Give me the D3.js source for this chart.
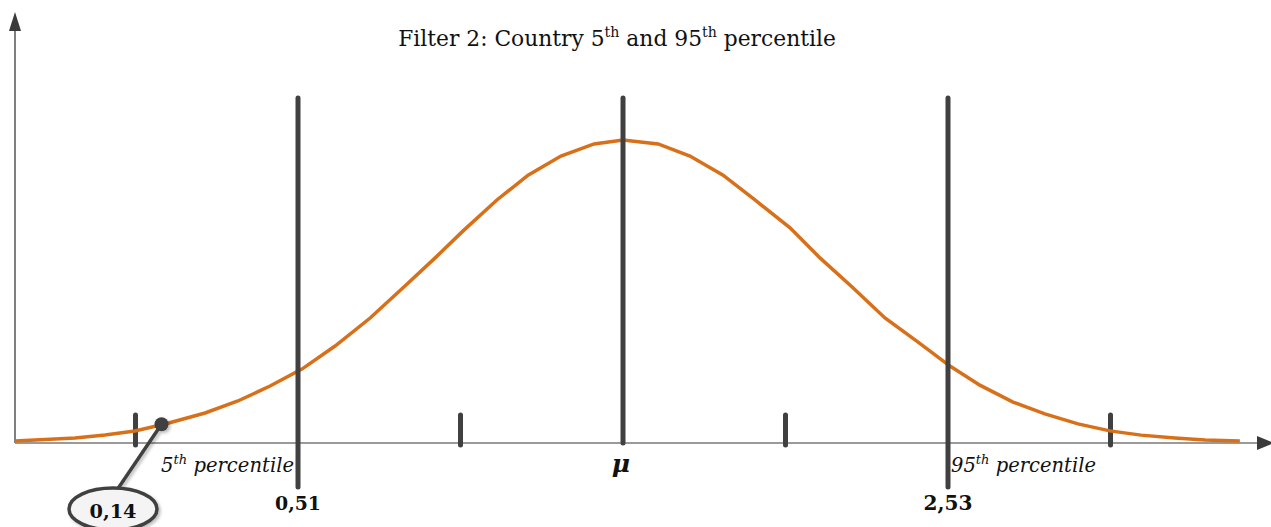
<!DOCTYPE html>
<html>
<head>
<meta charset="utf-8">
<script src="https://cdn.jsdelivr.net/npm/d3@7"></script>
<style>
  html, body { margin: 0; padding: 0; background: #ffffff; }
  svg { display: block; }
  text { font-family: "DejaVu Serif", "Liberation Serif", serif; fill: #111; }
</style>
</head>
<body>
<svg id="chart" width="1271" height="527"></svg>
<script>
// ---- data (standardised units: 0 = mean, ±1 = 5th / 95th percentile lines) ----
const curveZ = [-1.871, -1.686, -1.594, -1.502, -1.409, -1.286, -1.185, -1.086, -0.988, -0.886,
                -0.778, -0.671, -0.578, -0.492, -0.388, -0.292, -0.191, -0.089, 0.0, 0.108,
                0.206, 0.308, 0.406, 0.514, 0.606, 0.705, 0.806, 0.908, 1.006, 1.098,
                1.2, 1.298, 1.4, 1.498, 1.594, 1.698, 1.791, 1.898];
const curveV = [0.0066, 0.0165, 0.0264, 0.0396, 0.0627, 0.099, 0.1386, 0.188, 0.244, 0.320,
                0.4125, 0.518, 0.611, 0.700, 0.802, 0.884, 0.947, 0.987, 1.0, 0.987,
                0.947, 0.884, 0.802, 0.710, 0.611, 0.515, 0.4125, 0.333, 0.254, 0.191,
                0.135, 0.096, 0.063, 0.040, 0.026, 0.0165, 0.0099, 0.0066];
const bigLinesZ = [-1, 0, 1];
const bigLinesBottom = [-0.145, 0, -0.145];
const bigLineLabels = ["0,51", "", "2,53"];
const smallTicksZ = [-1.5, -0.5, 0.5, 1.5];
const calloutZ = -1.42;
const calloutV = 0.062;
const calloutLabel = "0,14";

const svg = d3.select("#chart");
const x = d3.scaleLinear().domain([-1.8708, 2.0]).range([15, 1273]);
const y = d3.scaleLinear().domain([0, 1]).range([443, 140]);

const dark = "#404040";

// scale a text's font size so it spans the given width
function fit(sel, width) {
  const base = +sel.attr("font-size");
  const w = sel.node().getComputedTextLength();
  const k = width / w;
  sel.attr("font-size", base * k);
  sel.selectAll("tspan").each(function () {
    const s = d3.select(this);
    if (s.attr("font-size")) s.attr("font-size", +s.attr("font-size") * k);
    if (s.attr("dy")) s.attr("dy", +s.attr("dy") * k);
  });
}

const defs = svg.append("defs");
const f = defs.append("filter").attr("id", "shadow").attr("x", "-30%").attr("y", "-30%").attr("width", "160%").attr("height", "160%");
f.append("feDropShadow").attr("dx", 2).attr("dy", 2).attr("stdDeviation", 1.5).attr("flood-color", "#000").attr("flood-opacity", 0.25);

// y axis
svg.append("line").attr("x1", 15).attr("x2", 15).attr("y1", 28).attr("y2", 443)
  .attr("stroke", "#555").attr("stroke-width", 1.5);
svg.append("path").attr("d", "M15,12 L9,31 L21,31 Z").attr("fill", "#3a3a3a");

// x axis
svg.append("line").attr("x1", 15).attr("x2", 1260).attr("y1", 443).attr("y2", 443)
  .attr("stroke", "#9a9a9a").attr("stroke-width", 2);
svg.append("path").attr("d", "M1274,443 L1257,436 L1257,450 Z").attr("fill", "#3a3a3a");

// small ticks
svg.selectAll("line.tick").data(smallTicksZ).join("line").attr("class", "tick")
  .attr("x1", d => x(d)).attr("x2", d => x(d))
  .attr("y1", y(0.092)).attr("y2", y(-0.007))
  .attr("stroke", dark).attr("stroke-width", 5).attr("stroke-linecap", "round");

// curve
const line = d3.line().x((d, i) => x(curveZ[i])).y((d, i) => y(curveV[i]));
svg.append("path").datum(curveV).attr("d", line)
  .attr("fill", "none").attr("stroke", "#D8701A").attr("stroke-width", 3.5)
  .attr("stroke-linejoin", "miter");

// big vertical lines
svg.selectAll("line.big").data(bigLinesZ).join("line").attr("class", "big")
  .attr("x1", d => x(d)).attr("x2", d => x(d))
  .attr("y1", y(1.139)).attr("y2", (d, i) => y(bigLinesBottom[i]))
  .attr("stroke", dark).attr("stroke-width", 5).attr("stroke-linecap", "round");

// value labels under big lines
const valTargets = [46, 0, 49];
const valX = [298, 0, 946];
svg.selectAll("text.val").data(bigLinesZ.filter((d, i) => bigLineLabels[i])).join("text").attr("class", "val")
  .attr("x", d => x(d)).attr("y", 510)
  .attr("text-anchor", "middle").attr("font-weight", "bold").attr("font-size", 18)
  .text(d => bigLineLabels[bigLinesZ.indexOf(d)])
  .each(function (d) { fit(d3.select(this), valTargets[bigLinesZ.indexOf(d)]); });

// mu
svg.append("text").attr("x", x(0) - 2).attr("y", 472).attr("text-anchor", "middle")
  .attr("font-weight", "bold").attr("font-style", "italic").attr("font-size", 25)
  .text("μ");

// percentile labels
const p5 = svg.append("text").attr("x", x(-1) - 4).attr("y", 472).attr("text-anchor", "end")
  .attr("font-style", "italic").attr("font-size", 18);
p5.append("tspan").text("5");
p5.append("tspan").attr("font-size", 12).attr("dy", -7).text("th");
p5.append("tspan").attr("dy", 7).text(" percentile");
fit(p5, 133);

const p95 = svg.append("text").attr("x", x(1) + 3).attr("y", 472).attr("text-anchor", "start")
  .attr("font-style", "italic").attr("font-size", 18);
p95.append("tspan").text("95");
p95.append("tspan").attr("font-size", 12).attr("dy", -7).text("th");
p95.append("tspan").attr("dy", 7).text(" percentile");
fit(p95, 145);

// title
const t = svg.append("text").attr("x", 617).attr("y", 46).attr("text-anchor", "middle").attr("font-size", 20);
t.append("tspan").text("Filter 2: Country 5");
t.append("tspan").attr("font-size", 13).attr("dy", -8).text("th");
t.append("tspan").attr("dy", 8).text(" and 95");
t.append("tspan").attr("font-size", 13).attr("dy", -8).text("th");
t.append("tspan").attr("dy", 8).text(" percentile");
fit(t, 438);

// callout
const cx = x(calloutZ), cy = y(calloutV);
const g = svg.append("g").attr("filter", "url(#shadow)");
g.append("line").attr("x1", cx).attr("y1", cy).attr("x2", 117).attr("y2", 490)
  .attr("stroke", dark).attr("stroke-width", 3.5);
g.append("ellipse").attr("cx", 113).attr("cy", 509).attr("rx", 44).attr("ry", 21)
  .attr("fill", "#f4f4f4").attr("stroke", dark).attr("stroke-width", 3.5);
g.append("circle").attr("cx", cx).attr("cy", cy).attr("r", 7).attr("fill", dark);
const ct = svg.append("text").attr("x", 113).attr("y", 518).attr("text-anchor", "middle")
  .attr("font-weight", "bold").attr("font-size", 20).text(calloutLabel);
fit(ct, 47);
</script>
</body>
</html>
